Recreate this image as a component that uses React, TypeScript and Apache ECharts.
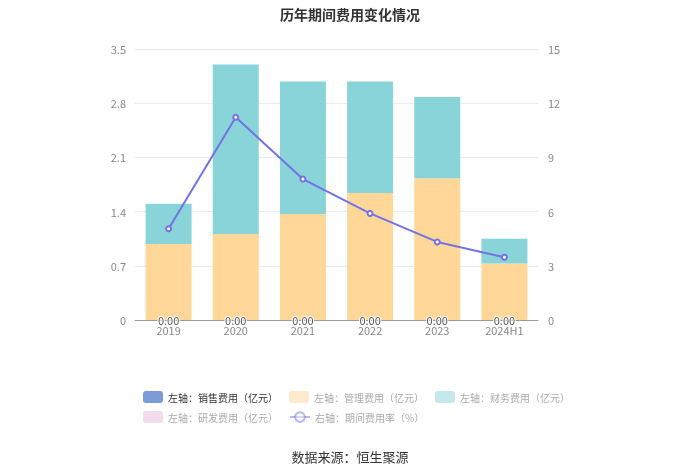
import React, { useEffect, useRef } from "react";
import * as echarts from "echarts";

const categories = ["2019", "2020", "2021", "2022", "2023", "2024H1"];
const salesExp = [0, 0, 0, 0, 0, 0];
const mgmtExp = [0.98, 1.11, 1.37, 1.64, 1.83, 0.73];
const finExp = [0.52, 2.19, 1.71, 1.44, 1.05, 0.32];
const rdExp = [0, 0, 0, 0, 0, 0];
const expRate = [5.05, 11.22, 7.8, 5.9, 4.32, 3.47];

const leftTicks = { min: 0, max: 3.5, interval: 0.7 };
const rightTicks = { min: 0, max: 15, interval: 3 };

const N_SALES = "左轴：销售费用（亿元）";
const N_MGMT = "左轴：管理费用（亿元）";
const N_FIN = "左轴：财务费用（亿元）";
const N_RD = "左轴：研发费用（亿元）";
const N_RATE = "右轴：期间费用率（%）";

export default function App() {
  const ref = useRef<HTMLDivElement>(null);
  useEffect(() => {
    if (!ref.current) return;
    const chart = echarts.init(ref.current, null, { renderer: "svg" });
    const font = "'Noto Sans CJK SC', 'Noto Sans', sans-serif";
    const faded = { color: "#aaa" };
    const legendBase = {
      left: 143,
      padding: 0,
      itemWidth: 20,
      itemHeight: 12,
      itemGap: 11,
      textStyle: { fontSize: 10, color: "#333" },
    };
    chart.setOption({
      animation: false,
      textStyle: { fontFamily: font },
      title: {
        text: "历年期间费用变化情况",
        left: "center",
        top: 2,
        textStyle: { fontSize: 14, fontWeight: "bold", color: "#333", fontFamily: font },
      },
      legend: [
        {
          ...legendBase,
          top: 391,
          data: [
            { name: N_SALES, itemStyle: { opacity: 1 } },
            { name: N_MGMT, itemStyle: { opacity: 0.5 }, textStyle: faded },
            { name: N_FIN, itemStyle: { opacity: 0.5 }, textStyle: faded },
          ],
        },
        {
          ...legendBase,
          top: 411,
          data: [
            { name: N_RD, itemStyle: { opacity: 0.5 }, textStyle: faded },
            { name: N_RATE, itemStyle: { opacity: 0.5 }, lineStyle: { opacity: 0.5 }, textStyle: faded },
          ],
        },
      ],
      grid: { left: 135, right: 162, top: 49, bottom: 154 },
      xAxis: {
        type: "category",
        data: categories,
        axisTick: { show: false },
        axisLine: { lineStyle: { color: "#999" } },
        axisLabel: { color: "#888", fontSize: 11, margin: 4 },
      },
      yAxis: [
        {
          type: "value",
          ...leftTicks,
          axisLine: { show: false },
          axisTick: { show: false },
          axisLabel: { color: "#888", fontSize: 11, margin: 9 },
          splitLine: { lineStyle: { color: "#ebebeb" } },
        },
        {
          type: "value",
          ...rightTicks,
          axisLine: { show: false },
          axisTick: { show: false },
          axisLabel: { color: "#888", fontSize: 11, margin: 10 },
          splitLine: { show: false },
        },
      ],
      series: [
        {
          name: N_SALES,
          type: "bar",
          stack: "exp",
          barWidth: 46,
          data: salesExp,
          itemStyle: { color: "#7b9cd8" },
          label: {
            show: true,
            position: "inside",
            formatter: (p: any) => Number(p.value).toFixed(2),
            color: "#555",
            fontSize: 11,
            textBorderColor: "#fff",
            textBorderWidth: 2,
          },
          z: 3,
        },
        { name: N_MGMT, type: "bar", stack: "exp", barWidth: 46, data: mgmtExp, itemStyle: { color: "#ffd899" } },
        { name: N_FIN, type: "bar", stack: "exp", barWidth: 46, data: finExp, itemStyle: { color: "#88d4d8" } },
        { name: N_RD, type: "bar", stack: "exp", barWidth: 46, data: rdExp, itemStyle: { color: "#e6b8d8" } },
        {
          name: N_RATE,
          type: "line",
          yAxisIndex: 1,
          data: expRate,
          symbol: "emptyCircle",
          symbolSize: 5,
          itemStyle: { color: "#7272e6" },
          lineStyle: { color: "#7272e6", width: 2 },
          z: 5,
        },
      ],
      graphic: [
        {
          type: "text",
          left: "center",
          top: 450,
          style: { text: "数据来源：恒生聚源", fontSize: 13, fill: "#333", fontFamily: font },
        },
      ],
    });
    return () => chart.dispose();
  }, []);
  return (
    <div
      ref={ref}
      style={{ position: "fixed", left: 0, top: 0, width: 700, height: 474 }}
    />
  );
}
